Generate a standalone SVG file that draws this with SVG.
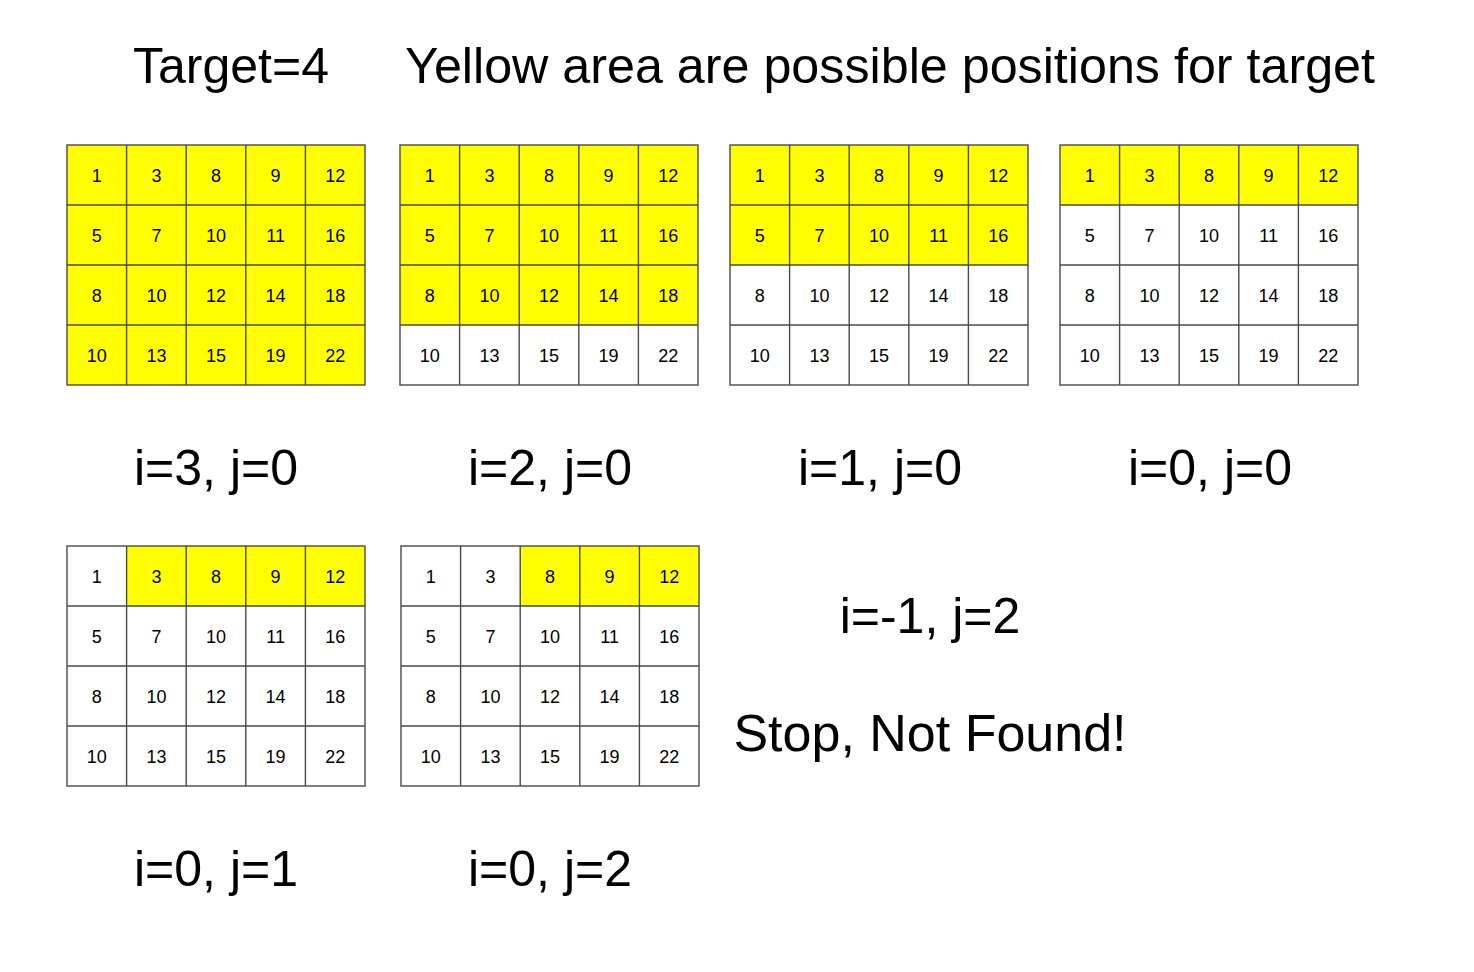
<svg xmlns="http://www.w3.org/2000/svg" width="1474" height="972" viewBox="0 0 1474 972">
<style>
.bg{fill:#fff}
.y{fill:#ffff00}
.ln{stroke:#4a4a4a;stroke-width:1.4;fill:none}
.n{font-family:"Liberation Sans",Arial,sans-serif;font-size:18px;text-anchor:middle;fill:#000}
.t{font-family:"Liberation Sans",Arial,sans-serif;font-size:50px;fill:#000}
.c{text-anchor:middle}
</style>
<rect width="1474" height="972" fill="#fff"/>
<defs>
<g id="lines">
<rect x="0" y="0" width="298" height="240" class="ln"/>
<path class="ln" d="M59.6 0V240M119.2 0V240M178.8 0V240M238.4 0V240M0 60H298M0 120H298M0 180H298"/>
</g>
<g id="nums">
<text class="n" x="29.8" y="37">1</text><text class="n" x="89.4" y="37">3</text><text class="n" x="149" y="37">8</text><text class="n" x="208.6" y="37">9</text><text class="n" x="268.2" y="37">12</text>
<text class="n" x="29.8" y="97">5</text><text class="n" x="89.4" y="97">7</text><text class="n" x="149" y="97">10</text><text class="n" x="208.6" y="97">11</text><text class="n" x="268.2" y="97">16</text>
<text class="n" x="29.8" y="157">8</text><text class="n" x="89.4" y="157">10</text><text class="n" x="149" y="157">12</text><text class="n" x="208.6" y="157">14</text><text class="n" x="268.2" y="157">18</text>
<text class="n" x="29.8" y="217">10</text><text class="n" x="89.4" y="217">13</text><text class="n" x="149" y="217">15</text><text class="n" x="208.6" y="217">19</text><text class="n" x="268.2" y="217">22</text>
</g>
</defs>
<g id="title">
<text class="t" x="133" y="83">Target=4</text>
<text class="t" x="405" y="83" textLength="970" lengthAdjust="spacingAndGlyphs">Yellow area are possible positions for target</text>
</g>
<g id="grid1" transform="translate(67,145)">
<rect class="y" x="0" y="0" width="298" height="240"/>
<use href="#lines"/><use href="#nums"/>
</g>
<g id="grid2" transform="translate(400,145)">
<rect class="bg" x="0" y="0" width="298" height="240"/>
<rect class="y" x="0" y="0" width="298" height="180"/>
<use href="#lines"/><use href="#nums"/>
</g>
<g id="grid3" transform="translate(730,145)">
<rect class="bg" x="0" y="0" width="298" height="240"/>
<rect class="y" x="0" y="0" width="298" height="120"/>
<use href="#lines"/><use href="#nums"/>
</g>
<g id="grid4" transform="translate(1060,145)">
<rect class="bg" x="0" y="0" width="298" height="240"/>
<rect class="y" x="0" y="0" width="298" height="60"/>
<use href="#lines"/><use href="#nums"/>
</g>
<g id="grid5" transform="translate(67,546)">
<rect class="bg" x="0" y="0" width="298" height="240"/>
<rect class="y" x="59.6" y="0" width="238.4" height="60"/>
<use href="#lines"/><use href="#nums"/>
</g>
<g id="grid6" transform="translate(401,546)">
<rect class="bg" x="0" y="0" width="298" height="240"/>
<rect class="y" x="119.2" y="0" width="178.8" height="60"/>
<use href="#lines"/><use href="#nums"/>
</g>
<g id="labels">
<text class="t c" x="216" y="485">i=3, j=0</text>
<text class="t c" x="550" y="485">i=2, j=0</text>
<text class="t c" x="880" y="485">i=1, j=0</text>
<text class="t c" x="1210" y="485">i=0, j=0</text>
<text class="t c" x="216" y="886">i=0, j=1</text>
<text class="t c" x="550" y="886">i=0, j=2</text>
<text class="t c" x="930" y="633">i=-1, j=2</text>
<text class="t c" x="930" y="751" style="font-size:52px">Stop, Not Found!</text>
</g>
</svg>
